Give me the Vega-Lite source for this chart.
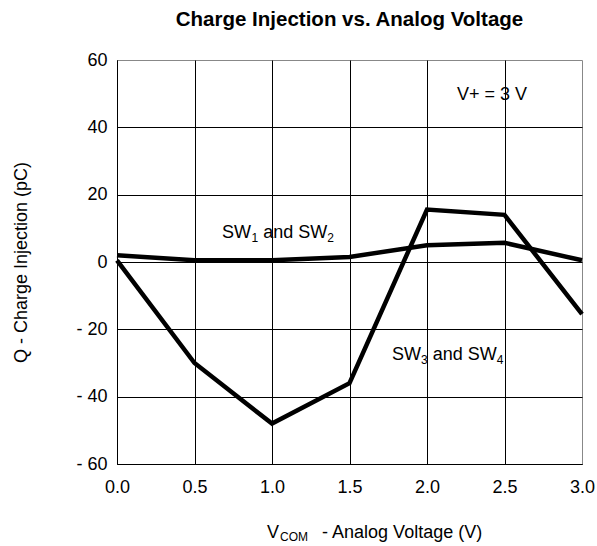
{
  "$schema": "https://vega.github.io/schema/vega-lite/v6.json",
  "autosize": {"type": "none"},
  "padding": {"left": 117, "top": 60, "right": 15, "bottom": 82},
  "width": 465,
  "height": 404,
  "config": {
    "font": "Liberation Sans",
    "view": {"stroke": "#888888", "strokeWidth": 1},
    "text": {"font": "Liberation Sans", "fontSize": 18, "color": "black"}
  },
  "title": {
    "text": "Charge Injection vs. Analog Voltage",
    "font": "Liberation Sans",
    "fontSize": 20.5,
    "fontWeight": "bold",
    "color": "black",
    "anchor": "middle",
    "offset": 21
  },
  "datasets": {
    "curves": [
      {"v": 0.0, "q": 2.0, "series": "SW1 and SW2"},
      {"v": 0.5, "q": 0.5, "series": "SW1 and SW2"},
      {"v": 1.0, "q": 0.5, "series": "SW1 and SW2"},
      {"v": 1.5, "q": 1.5, "series": "SW1 and SW2"},
      {"v": 2.0, "q": 5.0, "series": "SW1 and SW2"},
      {"v": 2.5, "q": 5.7, "series": "SW1 and SW2"},
      {"v": 3.0, "q": 0.5, "series": "SW1 and SW2"},
      {"v": 0.0, "q": 0.5, "series": "SW3 and SW4"},
      {"v": 0.5, "q": -30.0, "series": "SW3 and SW4"},
      {"v": 1.0, "q": -48.0, "series": "SW3 and SW4"},
      {"v": 1.5, "q": -36.0, "series": "SW3 and SW4"},
      {"v": 2.0, "q": 15.6, "series": "SW3 and SW4"},
      {"v": 2.5, "q": 14.0, "series": "SW3 and SW4"},
      {"v": 3.0, "q": -15.5, "series": "SW3 and SW4"}
    ],
    "texts": [
      {"v": 0.677, "q": 8.6, "label": "SW", "part": "main"},
      {"v": 0.868, "q": 7.2, "label": "1", "part": "sub"},
      {"v": 0.943, "q": 8.6, "label": "and SW", "part": "main"},
      {"v": 1.356, "q": 7.2, "label": "2", "part": "sub"},
      {"v": 1.774, "q": -27.7, "label": "SW", "part": "main"},
      {"v": 1.961, "q": -29.1, "label": "3", "part": "sub"},
      {"v": 2.037, "q": -27.7, "label": "and SW", "part": "main"},
      {"v": 2.45, "q": -29.1, "label": "4", "part": "sub"},
      {"v": 2.194, "q": 49.6, "label": "V+ = 3 V", "part": "main"},
      {"v": 0.968, "q": -80.6, "label": "V", "part": "main"},
      {"v": 1.052, "q": -81.8, "label": "COM", "part": "sub"},
      {"v": 1.323, "q": -80.6, "label": "-  Analog Voltage (V)", "part": "main"}
    ]
  },
  "layer": [
    {
      "data": {"name": "curves"},
      "mark": {"type": "line", "color": "black", "strokeWidth": 4.5, "strokeJoin": "miter"},
      "encoding": {
        "x": {
          "field": "v", "type": "quantitative",
          "scale": {"domain": [0, 3], "nice": false, "zero": false},
          "axis": {
            "values": [0, 0.5, 1, 1.5, 2, 2.5, 3],
            "format": ".1f",
            "title": null,
            "ticks": false,
            "domain": true,
            "domainColor": "black",
            "labelFont": "Liberation Sans",
            "labelFontSize": 18,
            "labelColor": "black",
            "labelPadding": 14,
            "labelFlush": false,
            "labelOverlap": false,
            "grid": true,
            "gridColor": {"condition": {"test": "datum.value == 3", "value": "transparent"}, "value": "black"},
            "gridOpacity": 1,
            "gridWidth": 1
          }
        },
        "y": {
          "field": "q", "type": "quantitative",
          "scale": {"domain": [-60, 60], "nice": false},
          "axis": {
            "values": [-60, -40, -20, 0, 20, 40, 60],
            "labelExpr": "datum.value < 0 ? '- ' + (-datum.value) : datum.label",
            "title": "Q  -  Charge Injection (pC)",
            "titleFont": "Liberation Sans",
            "titleFontSize": 18,
            "titleFontWeight": "normal",
            "titleColor": "black",
            "titleX": -96,
            "titleBaseline": "middle",
            "ticks": false,
            "domain": true,
            "domainColor": "black",
            "labelFont": "Liberation Sans",
            "labelFontSize": 18,
            "labelColor": "black",
            "labelPadding": 10,
            "labelFlush": false,
            "labelOverlap": false,
            "grid": true,
            "gridColor": {"condition": {"test": "datum.value == 60", "value": "transparent"}, "value": "black"},
            "gridOpacity": 1,
            "gridWidth": 1
          }
        },
        "detail": {"field": "series"}
      }
    },
    {
      "data": {"name": "texts"},
      "mark": {"type": "text", "align": "left", "baseline": "middle"},
      "encoding": {
        "x": {"field": "v", "type": "quantitative"},
        "y": {"field": "q", "type": "quantitative"},
        "text": {"field": "label"},
        "size": {"field": "part", "type": "nominal", "scale": {"domain": ["main", "sub"], "range": [18, 12]}, "legend": null}
      }
    }
  ]
}
